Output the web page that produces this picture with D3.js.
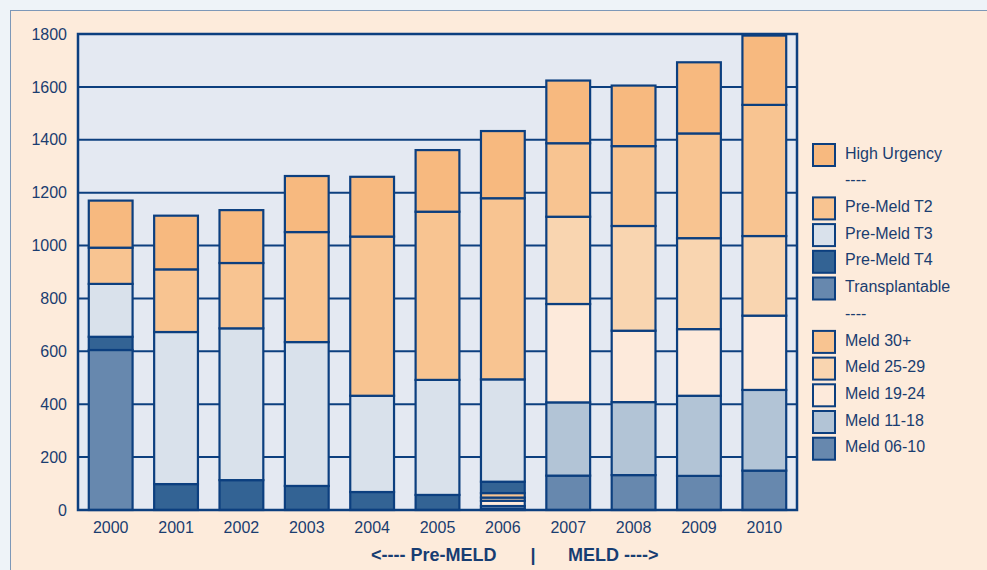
<!DOCTYPE html>
<html>
<head>
<meta charset="utf-8">
<script src="https://cdn.jsdelivr.net/npm/d3@7/dist/d3.min.js"></script>
<style>
  html, body { margin: 0; padding: 0; background: #eef3f8; }
  svg { display: block; }
</style>
</head>
<body>
<svg id="chart" width="987" height="570"></svg>
<script>
// Liver transplant waiting list composition by year
const years = ["2000", "2001", "2002", "2003", "2004", "2005", "2006", "2007", "2008", "2009", "2010"];
const highUrgency    = [178, 203, 200, 212, 226, 233, 254, 237, 229, 269, 262];
const preMeldT2      = [137, 237, 247, 416, 602, 636, 685, 0, 0, 0, 0];
const preMeldT3      = [200, 575, 574, 544, 364, 435, 387, 0, 0, 0, 0];
const preMeldT4      = [50, 98, 113, 91, 68, 57, 43, 0, 0, 0, 0];
const transplantable = [605, 0, 0, 0, 0, 0, 0, 0, 0, 0, 0];
const meld30plus     = [0, 0, 0, 0, 0, 0, 17, 278, 302, 396, 496];
const meld25to29     = [0, 0, 0, 0, 0, 0, 12, 330, 396, 344, 301];
const meld19to24     = [0, 0, 0, 0, 0, 0, 20, 372, 270, 252, 281];
const meld11to18     = [0, 0, 0, 0, 0, 0, 10, 277, 276, 303, 305];
const meld06to10     = [0, 0, 0, 0, 0, 0, 5, 130, 132, 129, 149];
const yTicks = [0, 200, 400, 600, 800, 1000, 1200, 1400, 1600, 1800];

// series in stacking order, bottom to top
const series = [
  { key: "Meld 06-10",      values: meld06to10,     color: "#6788ae" },
  { key: "Meld 11-18",      values: meld11to18,     color: "#b2c4d6" },
  { key: "Meld 19-24",      values: meld19to24,     color: "#fdeadb" },
  { key: "Meld 25-29",      values: meld25to29,     color: "#f9d5b0" },
  { key: "Meld 30+",        values: meld30plus,     color: "#f8c491" },
  { key: "Transplantable",  values: transplantable, color: "#6788ae" },
  { key: "Pre-Meld T4",     values: preMeldT4,      color: "#336394" },
  { key: "Pre-Meld T3",     values: preMeldT3,      color: "#d9e1eb" },
  { key: "Pre-Meld T2",     values: preMeldT2,      color: "#f8c491" },
  { key: "High Urgency",    values: highUrgency,    color: "#f7b97f" }
];

// legend rows, top to bottom ("----" rows are separators)
const legendRows = ["High Urgency", "----", "Pre-Meld T2", "Pre-Meld T3", "Pre-Meld T4", "Transplantable",
                    "----", "Meld 30+", "Meld 25-29", "Meld 19-24", "Meld 11-18", "Meld 06-10"];

const ink = "#0c3f7f";
const textColor = "#1a3d70";
const font = "'Liberation Sans', Arial, sans-serif";

const svg = d3.select("#chart");

// outer panel
svg.append("rect")
  .attr("x", 10.5).attr("y", 10.5).attr("width", 990).attr("height", 580)
  .attr("fill", "#fdebdb").attr("stroke", "#7d98b8").attr("stroke-width", 1);

const plot = { left: 78, top: 34, right: 797, bottom: 510 };

const x = d3.scaleBand()
  .domain(years)
  .range([plot.left, plot.right])
  .paddingInner(0.33)
  .paddingOuter(0.165);

const y = d3.scaleLinear()
  .domain([0, 1800])
  .range([plot.bottom, plot.top]);

// plot background
svg.append("rect")
  .attr("x", plot.left).attr("y", plot.top)
  .attr("width", plot.right - plot.left).attr("height", plot.bottom - plot.top)
  .attr("fill", "#e4e9f2");

// horizontal grid
svg.append("g")
  .selectAll("line")
  .data(yTicks.filter(t => t > 0 && t < 1800))
  .join("line")
  .attr("x1", plot.left).attr("x2", plot.right)
  .attr("y1", d => y(d)).attr("y2", d => y(d))
  .attr("stroke", ink).attr("stroke-width", 2);

// stacked bars
const table = years.map((yr, i) => {
  const row = { year: yr };
  series.forEach(s => { row[s.key] = s.values[i]; });
  return row;
});
const stack = d3.stack().keys(series.map(s => s.key));
const layers = stack(table);

const layerG = svg.append("g")
  .selectAll("g")
  .data(layers)
  .join("g")
  .attr("fill", (d, i) => series[i].color);

layerG.selectAll("rect")
  .data(d => d.filter(p => p[1] - p[0] > 0))
  .join("rect")
  .attr("x", d => x(d.data.year))
  .attr("width", x.bandwidth())
  .attr("y", d => y(d[1]))
  .attr("height", d => y(d[0]) - y(d[1]))
  .attr("stroke", ink)
  .attr("stroke-width", 2.2);

// plot frame
svg.append("rect")
  .attr("x", plot.left).attr("y", plot.top)
  .attr("width", plot.right - plot.left).attr("height", plot.bottom - plot.top)
  .attr("fill", "none").attr("stroke", ink).attr("stroke-width", 2.5);

// y axis labels
const yAxis = svg.append("g")
  .attr("transform", `translate(${plot.left},0)`)
  .call(d3.axisLeft(y).tickValues(yTicks).tickSize(0).tickPadding(11).tickFormat(d3.format("d")));
yAxis.select(".domain").remove();
yAxis.selectAll("text")
  .attr("fill", textColor)
  .style("font-family", font)
  .style("font-size", "16px");

// x axis labels
const xAxis = svg.append("g")
  .attr("transform", `translate(0,${plot.bottom})`)
  .call(d3.axisBottom(x).tickSize(0).tickPadding(12));
xAxis.select(".domain").remove();
xAxis.selectAll("text")
  .attr("fill", textColor)
  .style("font-family", font)
  .style("font-size", "16px");

// era caption under the axis
const caption = svg.append("g")
  .attr("fill", "#173d72")
  .style("font-family", font)
  .style("font-size", "18px")
  .style("font-weight", "bold");
caption.append("text").attr("x", 371).attr("y", 561).text("<---- Pre-MELD");
caption.append("text").attr("x", 533).attr("y", 561).attr("text-anchor", "middle").text("|");
caption.append("text").attr("x", 568).attr("y", 561).text("MELD ---->");

// legend
const colorOf = Object.fromEntries(series.map(s => [s.key, s.color]));
const legend = svg.append("g");
const rowY = i => 155 + i * 26.7;
legendRows.forEach((name, i) => {
  const g = legend.append("g").attr("transform", `translate(0,${rowY(i)})`);
  if (name !== "----") {
    g.append("rect")
      .attr("x", 813).attr("y", -11).attr("width", 22).attr("height", 22)
      .attr("fill", colorOf[name]).attr("stroke", ink).attr("stroke-width", 2);
  }
  g.append("text")
    .attr("x", 845).attr("y", -2).attr("dy", "0.35em")
    .attr("fill", textColor)
    .style("font-family", font)
    .style("font-size", "16px")
    .text(name);
});
</script>
</body>
</html>
